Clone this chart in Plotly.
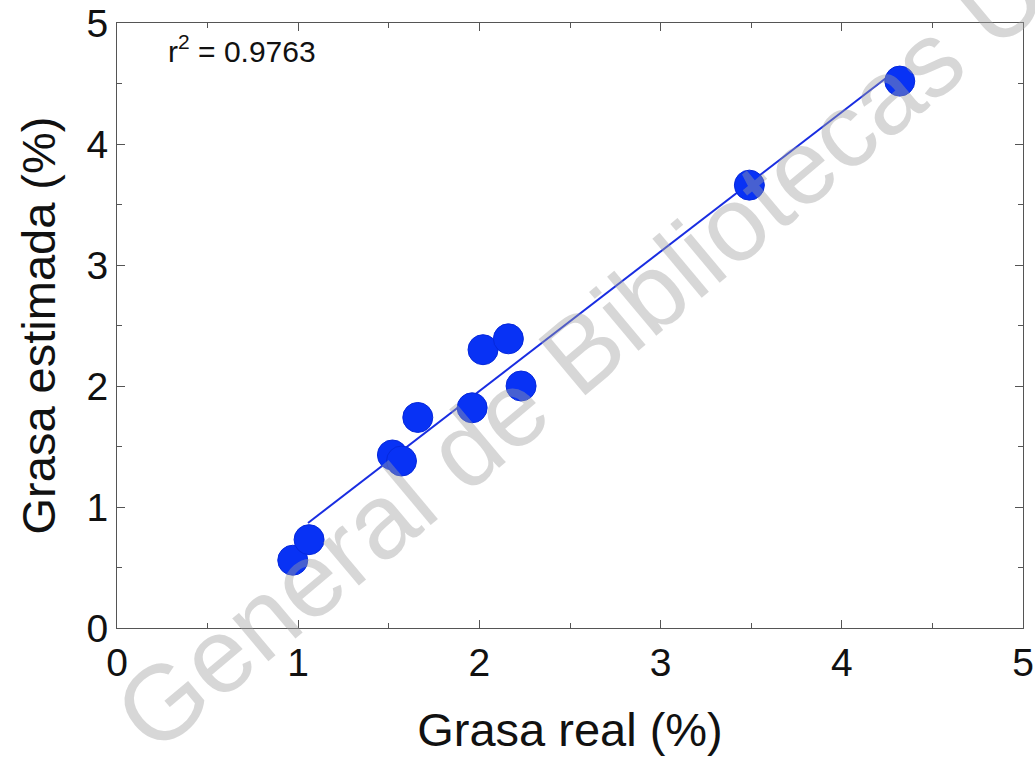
import plotly.graph_objects as go

# Data
grasa_real = [0.97, 1.06, 1.52, 1.57, 1.66, 1.96, 2.02, 2.16, 2.23, 3.49, 4.32]
grasa_estimada = [0.56, 0.73, 1.43, 1.38, 1.74, 1.82, 2.30, 2.39, 2.00, 3.66, 4.52]
fit_x = [1.054, 4.30]
fit_y = [0.868, 4.61]
r2_text = "r<sup>2</sup> = 0.9763"
ticks = [0, 1, 2, 3, 4, 5]

FONT = "Arial, Liberation Sans, Helvetica, sans-serif"

fig = go.Figure()
fig.add_trace(go.Scatter(x=fit_x, y=fit_y, mode="lines",
                         line=dict(color="rgb(25,45,225)", width=2),
                         showlegend=False, hoverinfo="skip"))
fig.add_trace(go.Scatter(x=grasa_real, y=grasa_estimada, mode="markers",
                         marker=dict(size=30, color="rgb(8,50,245)",
                                     line=dict(color="rgb(5,40,220)", width=1)),
                         showlegend=False))

axis_common = dict(
    range=[0, 5], tickvals=ticks, ticktext=[str(t) for t in ticks],
    ticks="inside", ticklen=8, tickwidth=1, tickcolor="#555",
    minor=dict(dtick=0.5, ticks="inside", ticklen=5, tickcolor="#555"),
    showline=True, linecolor="#555", linewidth=1, mirror="allticks",
    showgrid=False, zeroline=False, automargin=False,
    tickfont=dict(family=FONT, size=39, color="#111"),
)

fig.update_xaxes(**axis_common,
                 title=dict(text="Grasa real (%)", font=dict(family=FONT, size=47, color="#111"),
                            standoff=30))
fig.update_yaxes(**axis_common,
                 title=dict(text="Grasa estimada (%)", font=dict(family=FONT, size=47, color="#111"),
                            standoff=16))

fig.add_annotation(x=0.27, y=4.785, xref="x", yref="y", text=r2_text,
                   showarrow=False, xanchor="left", yanchor="middle",
                   font=dict(family=FONT, size=30, color="#111"))

# Watermark (position given in pixels, converted to paper fraction below)
wm_px = (670, 276)
pw = 1035 - 117 - 12
ph = 759 - 23 - 131
fig.add_annotation(x=(wm_px[0] - 117) / pw, y=(759 - 131 - wm_px[1]) / ph,
                   xref="paper", yref="paper",
                   text="General de Bibliotecas UNAM", showarrow=False,
                   textangle=-40, xanchor="center", yanchor="middle",
                   font=dict(family=FONT, size=106, color="rgba(160,160,160,0.42)"))

fig.update_layout(
    width=1035, height=759,
    margin=dict(l=117, r=12, t=23, b=131),
    plot_bgcolor="white", paper_bgcolor="white",
    font=dict(family=FONT),
)

fig.write_html("out.html", config={"displayModeBar": False},
               post_script="document.body.style.margin='0';document.body.style.overflow='hidden';")
